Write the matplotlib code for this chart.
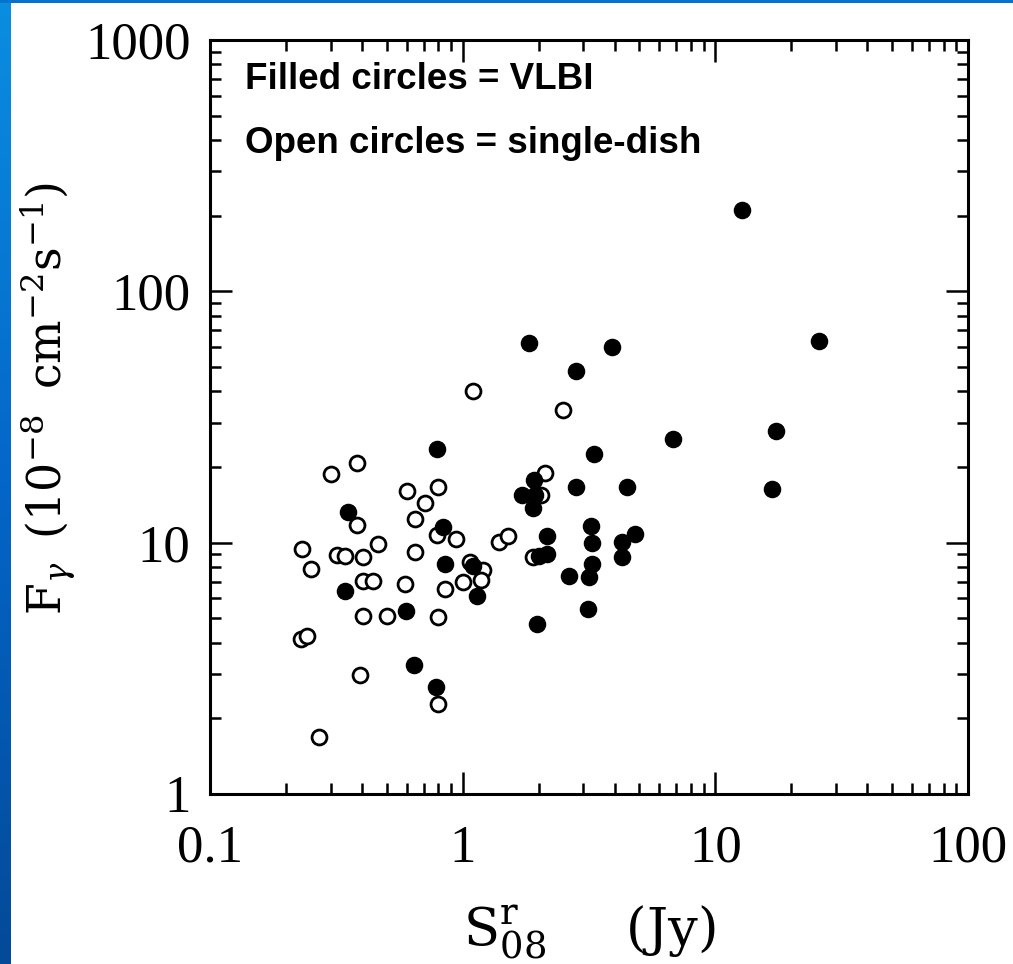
import numpy as np
import matplotlib
matplotlib.use("Agg")
import matplotlib.pyplot as plt
from matplotlib.ticker import LogLocator, FixedLocator, FixedFormatter, NullFormatter

# VLBI (filled circles)
vlbi_s = [0.792, 0.352, 0.835, 0.85, 1.098, 1.14, 0.343, 0.594, 0.642, 0.781,
          1.83, 3.89, 2.81, 6.78, 17.4, 3.32, 2.81, 4.48, 16.7, 1.91,
          1.71, 1.93, 1.90, 3.23, 2.16, 3.24, 4.26, 4.81, 4.29, 3.25,
          3.15, 2.63, 2.01, 2.15, 3.13, 1.97, 12.7, 25.8]
vlbi_f = [23.5, 13.3, 11.5, 8.23, 8.05, 6.16, 6.45, 5.37, 3.27, 2.67,
          62.4, 60.1, 48.1, 25.8, 27.8, 22.6, 16.6, 16.7, 16.4, 17.7,
          15.5, 15.5, 13.7, 11.6, 10.6, 9.94, 10.1, 10.8, 8.75, 8.23,
          7.33, 7.35, 8.82, 9.02, 5.45, 4.76, 211, 63.2]

# single-dish (open circles)
sd_s = [1.098, 0.30, 0.381, 0.601, 0.80, 0.71, 0.648, 0.381, 0.795, 0.938,
        1.39, 1.51, 0.231, 0.463, 0.317, 0.342, 0.402, 0.65, 0.252, 0.402,
        0.442, 0.59, 0.851, 1.0, 1.066, 1.20, 1.185, 0.402, 0.502, 0.80,
        0.230, 0.241, 0.392, 0.80, 0.27, 2.49, 2.11, 2.05, 1.89]
sd_f = [40.1, 18.8, 20.8, 16.0, 16.6, 14.4, 12.4, 11.8, 10.7, 10.3,
        10.1, 10.6, 9.44, 9.88, 8.96, 8.88, 8.74, 9.15, 7.84, 7.07,
        7.07, 6.86, 6.55, 6.96, 8.41, 7.79, 7.13, 5.13, 5.13, 5.05,
        4.15, 4.27, 2.98, 2.28, 1.68, 33.6, 18.9, 15.5, 8.75]

x_ticks = [0.1, 1, 10, 100]
x_labels = ["0.1", "1", "10", "100"]
y_ticks = [1, 10, 100, 1000]
y_labels = ["1", "10", "100", "1000"]

plt.rcParams["font.family"] = "Liberation Serif"
plt.rcParams["mathtext.fontset"] = "dejavuserif"

W, H = 1013, 964
fig = plt.figure(figsize=(W / 100, H / 100), dpi=100, facecolor="white")

# slide frame: blue strips on left and top
frame = fig.add_axes([0, 0, 10 / W, 1])
grad = np.linspace(0, 1, 256).reshape(-1, 1)
frame.imshow(grad, aspect="auto", cmap=matplotlib.colors.LinearSegmentedColormap.from_list(
    "blu", ["#0a8ee0", "#0466c8", "#034a98"]), extent=[0, 1, 0, 1], origin="upper")
frame.axis("off")
top = fig.add_axes([0, 1 - 3 / H, 1, 3 / H])
top.set_facecolor("#0572d0")
top.set_xticks([]); top.set_yticks([])
for s in top.spines.values():
    s.set_visible(False)

ax = fig.add_axes([210 / W, 1 - 794 / H, 758 / W, 754 / H])
ax.set_xscale("log")
ax.set_yscale("log")
ax.set_xlim(0.1, 100)
ax.set_ylim(1, 1000)

ax.scatter(sd_s, sd_f, s=115, facecolors="white", edgecolors="black", linewidths=2.0, zorder=3)
ax.scatter(vlbi_s, vlbi_f, s=135, color="black", zorder=4)

ax.xaxis.set_major_locator(FixedLocator(x_ticks))
ax.xaxis.set_major_formatter(FixedFormatter(x_labels))
ax.yaxis.set_major_locator(FixedLocator(y_ticks))
ax.yaxis.set_major_formatter(FixedFormatter(y_labels))
ax.xaxis.set_minor_locator(LogLocator(base=10, subs=np.arange(2, 10)))
ax.yaxis.set_minor_locator(LogLocator(base=10, subs=np.arange(2, 10)))
ax.xaxis.set_minor_formatter(NullFormatter())
ax.yaxis.set_minor_formatter(NullFormatter())

ax.tick_params(which="both", direction="in", top=True, right=True, width=1.8)
ax.tick_params(which="major", length=16)
ax.tick_params(which="minor", length=8)
ax.tick_params(axis="x", which="major", labelsize=38, pad=22)
ax.tick_params(axis="y", which="major", labelsize=38, pad=14)
for s in ax.spines.values():
    s.set_linewidth(2.2)

ax.set_xlabel(r"$\mathrm{S^{r}_{08}\quad\;\;(Jy)}$", fontsize=38)
ax.xaxis.set_label_coords(0.5, -0.145)
ax.set_ylabel(r"$\mathrm{F}_{\gamma}\;\;(10^{-8}\;\;\mathrm{cm}^{-2}\mathrm{s}^{-1})$", fontsize=33)
ax.yaxis.set_label_coords(-0.174, 0.525)

ax.text(0.046, 0.947, "Filled circles = VLBI", transform=ax.transAxes,
        fontsize=26.5, fontweight="bold", family="Liberation Sans", va="center")
ax.text(0.046, 0.863, "Open circles = single-dish", transform=ax.transAxes,
        fontsize=26.5, fontweight="bold", family="Liberation Sans", va="center")

fig.savefig("out.png", dpi=100, facecolor="white")
